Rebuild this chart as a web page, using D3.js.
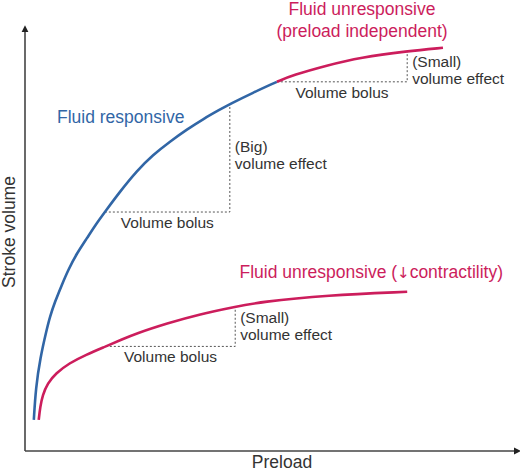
<!DOCTYPE html>
<html>
<head>
<meta charset="utf-8">
<script src="https://cdn.jsdelivr.net/npm/d3@7"></script>
<style>
  body { margin: 0; background: #fff; }
  svg { display: block; font-family: "Liberation Sans", Arial, sans-serif; }
</style>
</head>
<body>
<div id="chart"></div>
<script>
"use strict";

/***** data (preload / stroke volume, arbitrary units 0-100) *****/

// normal heart, fluid responsive part (steep)
const respPreload = [1.8, 2.2, 3.1, 4.4, 5.1, 6.1, 7.5, 8.8, 10.6, 12.6, 14.6, 16.3, 19.4, 22.9, 26.1, 29.6, 33.1, 36.3, 39.8, 41.8, 46.5, 51.4],
      respVolume  = [7.4, 15.0, 22.1, 28.8, 32.0, 35.5, 39.5, 43.1, 47.1, 50.6, 54.2, 56.9, 61.8, 66.8, 70.5, 73.7, 76.6, 79.0, 81.3, 82.6, 85.3, 87.9];

// normal heart, plateau (preload independent)
const flatPreload = [51.4, 54.7, 61.6, 68.4, 78.0, 85.3],
      flatVolume  = [87.9, 89.5, 91.8, 93.7, 95.2, 96.0];

// reduced contractility curve
const lowPreload = [2.8, 3.1, 3.6, 4.6, 6.3, 9.0, 12.4, 16.5, 19.9, 22.5, 29.0, 35.7, 42.9, 48.0, 61.6, 78.0],
      lowVolume  = [7.4, 10.5, 13.3, 16.1, 18.5, 20.9, 22.9, 24.9, 26.6, 27.9, 30.4, 32.6, 34.3, 35.5, 37.1, 37.9];

// volume bolus steps: preload from -> to, stroke volume from -> to
const bolusFrom  = [16.3, 51.4, 16.5],
      bolusTo    = [41.8, 78.0, 42.9],
      volumeFrom = [56.9, 87.9, 24.9],
      volumeTo   = [82.6, 95.0, 34.3],
      effectText = ["(Big)", "(Small)", "(Small)"];


/***** layout *****/

const width = 520, height = 476,
      blue = "#3166a6",
      pink = "#cc1d5c",
      ink = "#333";

const x = d3.scaleLinear().domain([0, 100]).range([25, 515]),
      y = d3.scaleLinear().domain([0, 100]).range([451, 31]);

let svg = d3.select("#chart")
  .append("svg")
  .attr("width", width)
  .attr("height", height);

svg.append("defs")
  .append("marker")
  .attr("id", "arrow")
  .attr("viewBox", "0 0 10 10")
  .attr("refX", 2)
  .attr("refY", 5)
  .attr("markerWidth", 4.5)
  .attr("markerHeight", 4.5)
  .attr("orient", "auto")
  .append("path")
  .attr("d", "M0,0 L10,5 L0,10 z")
  .attr("fill", "#222");

/***** axes *****/

svg.append("path")
  .attr("d", `M${x(0)},${y(0)} H${x(100)}`)
  .attr("stroke", "#444")
  .attr("stroke-width", 1.6)
  .attr("marker-end", "url(#arrow)");

svg.append("path")
  .attr("d", `M${x(0)},${y(0)} V${y(100)}`)
  .attr("stroke", "#444")
  .attr("stroke-width", 1.6)
  .attr("marker-end", "url(#arrow)");

svg.append("text")
  .text("Preload")
  .attr("x", 282)
  .attr("y", 468)
  .attr("text-anchor", "middle")
  .attr("font-size", 17.5)
  .attr("fill", ink);

svg.append("text")
  .text("Stroke volume")
  .attr("transform", "translate(15, 232) rotate(-90)")
  .attr("text-anchor", "middle")
  .attr("font-size", 17.5)
  .attr("fill", ink);

/***** bolus steps (dotted) *****/

const dy = [48, 15, 16]; // where the effect label sits below the step top

let steps = svg.selectAll("g.step")
  .data(bolusFrom.map((d, i) => ({x0: d, x1: bolusTo[i], y0: volumeFrom[i], y1: volumeTo[i], t: effectText[i], dy: dy[i]})))
  .enter()
  .append("g")
  .classed("step", true);

steps.append("path")
  .attr("d", d => `M${x(d.x0)},${y(d.y0)} H${x(d.x1)} V${y(d.y1)}`)
  .attr("fill", "none")
  .attr("stroke", "#555")
  .attr("stroke-width", 1)
  .attr("stroke-dasharray", "2,2");

steps.append("text")
  .text("Volume bolus")
  .attr("x", d => (x(d.x0) + x(d.x1)) / 2)
  .attr("y", d => y(d.y0) + 16)
  .attr("text-anchor", "middle")
  .attr("font-size", 15.5)
  .attr("fill", ink);

let eff = steps.append("text")
  .attr("x", d => x(d.x1) + 5)
  .attr("y", d => y(d.y1) + d.dy)
  .attr("font-size", 15.5)
  .attr("fill", ink);

eff.append("tspan").text(d => d.t);
eff.append("tspan")
  .text("volume effect")
  .attr("x", d => x(d.x1) + 5)
  .attr("dy", 17);

/***** curves *****/

const line = d3.line()
  .x(d => x(d[0]))
  .y(d => y(d[1]))
  .curve(d3.curveBasis);

const curves = [
  {pts: d3.zip(respPreload, respVolume), color: blue},
  {pts: d3.zip(flatPreload, flatVolume), color: pink},
  {pts: d3.zip(lowPreload, lowVolume), color: pink}
];

svg.selectAll("path.curve")
  .data(curves)
  .enter()
  .append("path")
  .classed("curve", true)
  .attr("d", d => line(d.pts))
  .attr("fill", "none")
  .attr("stroke", d => d.color)
  .attr("stroke-width", 2.6);

/***** curve labels *****/

svg.append("text")
  .text("Fluid responsive")
  .attr("x", 57)
  .attr("y", 123)
  .attr("font-size", 17.5)
  .attr("fill", blue);

let topLabel = svg.append("text")
  .attr("x", 362)
  .attr("y", 15)
  .attr("text-anchor", "middle")
  .attr("font-size", 17.5)
  .attr("fill", pink);
topLabel.append("tspan").text("Fluid unresponsive");
topLabel.append("tspan").text("(preload independent)").attr("x", 362).attr("dy", 22);

let lowLabel = svg.append("text")
  .attr("x", 503)
  .attr("y", 278)
  .attr("text-anchor", "end")
  .attr("font-size", 17.5)
  .attr("fill", pink);
lowLabel.append("tspan").text("Fluid unresponsive (");
lowLabel.append("tspan").text("\u2193").attr("font-family", "DejaVu Sans").attr("font-size", 15);
lowLabel.append("tspan").text("contractility)");
</script>
</body>
</html>
